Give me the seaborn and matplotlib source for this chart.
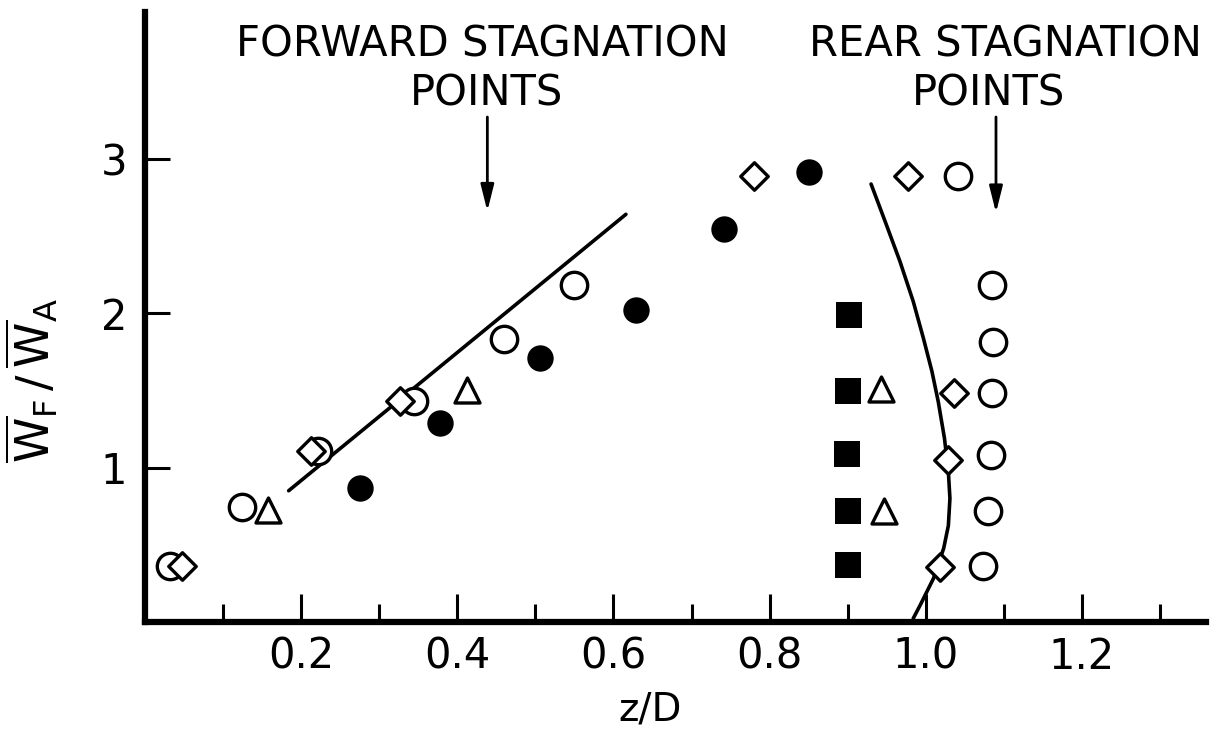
import matplotlib
matplotlib.use("Agg")
import matplotlib.pyplot as plt
import seaborn as sns
import pandas as pd

# ---- data (z/D, W_F/W_A) ----
open_circle_x = [0.032, 0.124, 0.222, 0.344, 0.460, 0.549, 1.041,
                 1.085, 1.086, 1.085, 1.083, 1.080, 1.074]
open_circle_y = [0.365, 0.743, 1.105, 1.434, 1.830, 2.180, 2.886,
                 2.180, 1.816, 1.484, 1.082, 0.720, 0.361]

diamond_x = [0.048, 0.212, 0.327, 0.780, 0.977, 1.036, 1.029, 1.018]
diamond_y = [0.365, 1.108, 1.434, 2.886, 2.886, 1.484, 1.052, 0.358]

triangle_x = [0.158, 0.413, 0.943, 0.946]
triangle_y = [0.725, 1.500, 1.510, 0.721]

filled_circle_x = [0.276, 0.378, 0.506, 0.629, 0.742, 0.850]
filled_circle_y = [0.866, 1.290, 1.710, 2.020, 2.547, 2.914]

filled_square_x = [0.902, 0.901, 0.899, 0.900, 0.900]
filled_square_y = [1.990, 1.495, 1.089, 0.721, 0.371]

# forward stagnation fit line
fwd_line_x = [0.184, 0.616]
fwd_line_y = [0.850, 2.640]

# rear stagnation curve
rear_curve_x = [0.930, 0.948, 0.967, 0.984, 0.997, 1.008, 1.016, 1.024,
                1.029, 1.031, 1.029, 1.023, 1.010, 0.993, 0.984]
rear_curve_y = [2.836, 2.594, 2.335, 2.076, 1.838, 1.622, 1.428, 1.190,
                0.974, 0.800, 0.624, 0.477, 0.283, 0.110, 0.023]

x_ticks = [0.2, 0.4, 0.6, 0.8, 1.0, 1.2]
x_tick_labels = ["0.2", "0.4", "0.6", "0.8", "1.0", "1.2"]
x_minor_ticks = [0.1, 0.3, 0.5, 0.7, 0.9, 1.1, 1.3]
y_ticks = [1, 2, 3]
y_tick_labels = ["1", "2", "3"]

sns.set_style("ticks")
plt.rcParams["font.family"] = ["DejaVu Sans"]
plt.rcParams["mathtext.fontset"] = "dejavusans"

fig = plt.figure(figsize=(12.28, 7.34), dpi=100)
ax = fig.add_axes([145 / 1228, (734 - 622) / 734, (1206 - 145) / 1228, (622 - 12) / 734])

ink = "black"
open_lw = 2.4

fwd = pd.DataFrame({"x": fwd_line_x, "y": fwd_line_y})
sns.lineplot(data=fwd, x="x", y="y", ax=ax, color=ink, lw=2.6, sort=False,
             estimator=None, errorbar=None)
rear = pd.DataFrame({"x": rear_curve_x, "y": rear_curve_y})
sns.lineplot(data=rear, x="x", y="y", ax=ax, color=ink, lw=2.6, sort=False,
             estimator=None, errorbar=None)


def pts(xs, ys):
    return pd.DataFrame({"x": xs, "y": ys})


sns.scatterplot(data=pts(open_circle_x, open_circle_y), x="x", y="y", ax=ax,
                marker="o", s=19 ** 2, facecolor="white", edgecolor=ink,
                linewidth=open_lw, zorder=3)
sns.scatterplot(data=pts(diamond_x, diamond_y), x="x", y="y", ax=ax,
                marker="D", s=14 ** 2, facecolor="white", edgecolor=ink,
                linewidth=open_lw, zorder=3)
sns.scatterplot(data=pts(triangle_x, triangle_y), x="x", y="y", ax=ax,
                marker="^", s=18 ** 2, facecolor="white", edgecolor=ink,
                linewidth=open_lw, zorder=3)
sns.scatterplot(data=pts(filled_circle_x, filled_circle_y), x="x", y="y", ax=ax,
                marker="o", s=19 ** 2, color=ink, edgecolor=ink, linewidth=0,
                zorder=3)
sns.scatterplot(data=pts(filled_square_x, filled_square_y), x="x", y="y", ax=ax,
                marker="s", s=19 ** 2, color=ink, edgecolor=ink, linewidth=0,
                zorder=3)

ax.set_xlim(0, 1.359)
ax.set_ylim(0, 3.95)

ax.set_xticks(x_ticks)
ax.set_xticklabels(x_tick_labels)
ax.set_xticks(x_minor_ticks, minor=True)
ax.set_yticks(y_ticks)
ax.set_yticklabels(y_tick_labels)

ax.tick_params(axis="x", which="major", direction="in", length=20, width=2.2,
               labelsize=30, pad=10, colors=ink)
ax.tick_params(axis="x", which="minor", direction="in", length=13, width=2.2,
               colors=ink)
ax.tick_params(axis="y", which="major", direction="in", length=18, width=2.2,
               labelsize=30, pad=13, colors=ink)

for side in ("top", "right"):
    ax.spines[side].set_visible(False)
for side in ("left", "bottom"):
    ax.spines[side].set_linewidth(4.5)
    ax.spines[side].set_color(ink)

ax.set_xlabel("z/D", fontsize=28, color=ink)
ax.xaxis.set_label_coords(0.476, -0.112)
ax.set_ylabel(r"$\mathrm{\overline{W}_F\,/\,\overline{W}_A}$", fontsize=33, color=ink)
ax.yaxis.set_label_coords(-0.080, 0.397)

txt = dict(ha="center", va="center", fontsize=30, color=ink)
ax.text(0.432, 3.74, "FORWARD STAGNATION", **txt)
ax.text(0.438, 3.42, "POINTS", **txt)
ax.text(1.102, 3.74, "REAR STAGNATION", **txt)
ax.text(1.080, 3.42, "POINTS", **txt)

arrow = dict(arrowstyle="-|>,head_length=1.6,head_width=0.4", color=ink, lw=2.0,
             shrinkA=0, shrinkB=0)
ax.annotate("", xy=(0.4385, 2.66), xytext=(0.4385, 3.27), arrowprops=arrow,
            annotation_clip=False)
ax.annotate("", xy=(1.090, 2.65), xytext=(1.090, 3.27), arrowprops=arrow,
            annotation_clip=False)

fig.savefig("out.png", dpi=100)
